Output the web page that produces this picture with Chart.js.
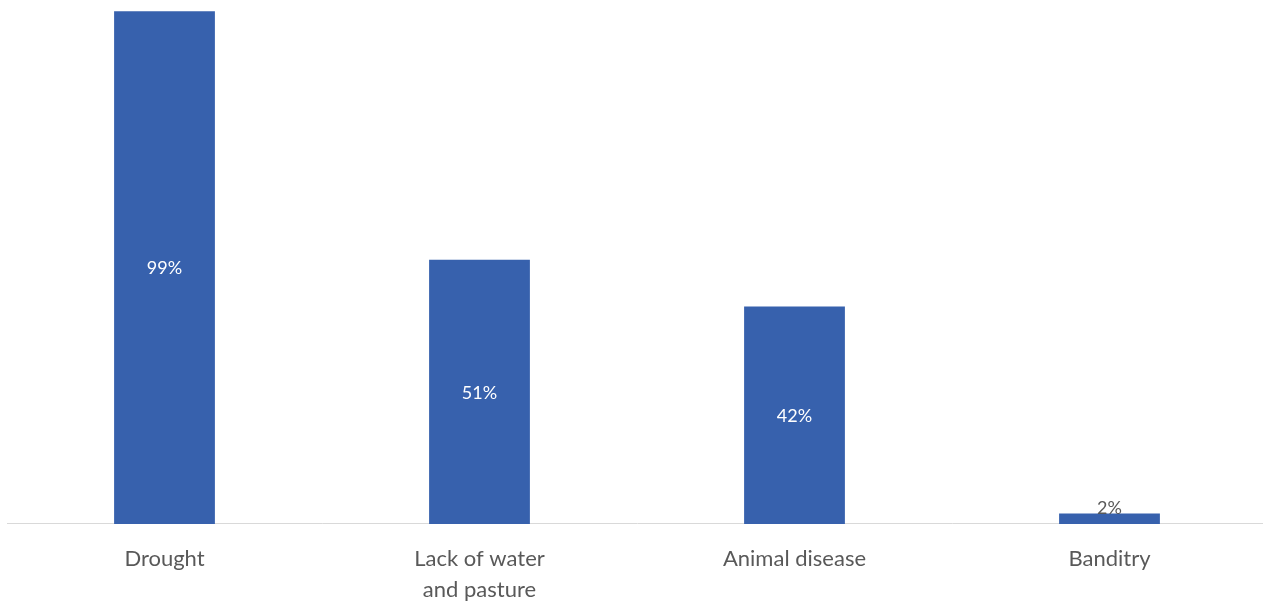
<!DOCTYPE html>
<html>
<head>
<meta charset="utf-8">
<script src="https://cdn.jsdelivr.net/npm/chart.js@4/dist/chart.umd.min.js"></script>
<style>
  html, body { margin: 0; padding: 0; background: #ffffff; overflow: hidden; }
  #wrap { position: relative; width: 1270px; height: 616px; }
</style>
</head>
<body>
<div id="wrap"><canvas id="chart"></canvas></div>
<script>
// Reported challenges (% of respondents)
const categories = ["Drought", ["Lack of water", "and pasture"], "Animal disease", "Banditry"];
const shares = [99, 51, 42, 2];
const shareLabels = ["99%", "51%", "42%", "2%"];

const barColor = "#3761AD";
const textColor = "#595959";
const fontFamily = "'Gill Sans', Lato, 'Open Sans', sans-serif";

// Writes the value on each bar: centred inside tall bars, above short ones
const valueLabels = {
  id: "valueLabels",
  afterDatasetsDraw(chart) {
    const { ctx } = chart;
    const meta = chart.getDatasetMeta(0);
    ctx.save();
    ctx.font = "18px " + fontFamily;
    ctx.textAlign = "center";
    meta.data.forEach((bar, i) => {
      const h = bar.base - bar.y;
      if (h > 30) {
        ctx.fillStyle = "#ffffff";
        ctx.textBaseline = "middle";
        ctx.fillText(shareLabels[i], bar.x, (bar.y + bar.base) / 2 + 1);
      } else {
        ctx.fillStyle = textColor;
        ctx.textBaseline = "bottom";
        ctx.fillText(shareLabels[i], bar.x, bar.y + 4);
      }
    });
    ctx.restore();
  }
};

new Chart(document.getElementById("chart"), {
  type: "bar",
  data: {
    labels: categories,
    datasets: [{
      data: shares,
      backgroundColor: barColor,
      borderWidth: 0,
      barPercentage: 0.32,
      categoryPercentage: 1
    }]
  },
  options: {
    responsive: true,
    maintainAspectRatio: false,
    animation: false,
    layout: { padding: { left: 7, right: 3, top: 6, bottom: 0 } },
    plugins: {
      legend: { display: false },
      tooltip: { enabled: false }
    },
    scales: {
      x: {
        grid: { display: false },
        border: { display: true, color: "#d9d9d9", width: 1 },
        ticks: {
          color: textColor,
          padding: 11,
          font: { family: fontFamily, size: 22, lineHeight: 1.41 },
          maxRotation: 0
        }
      },
      y: {
        display: false,
        min: 0,
        max: 100
      }
    }
  },
  plugins: [valueLabels]
});
</script>
</body>
</html>
